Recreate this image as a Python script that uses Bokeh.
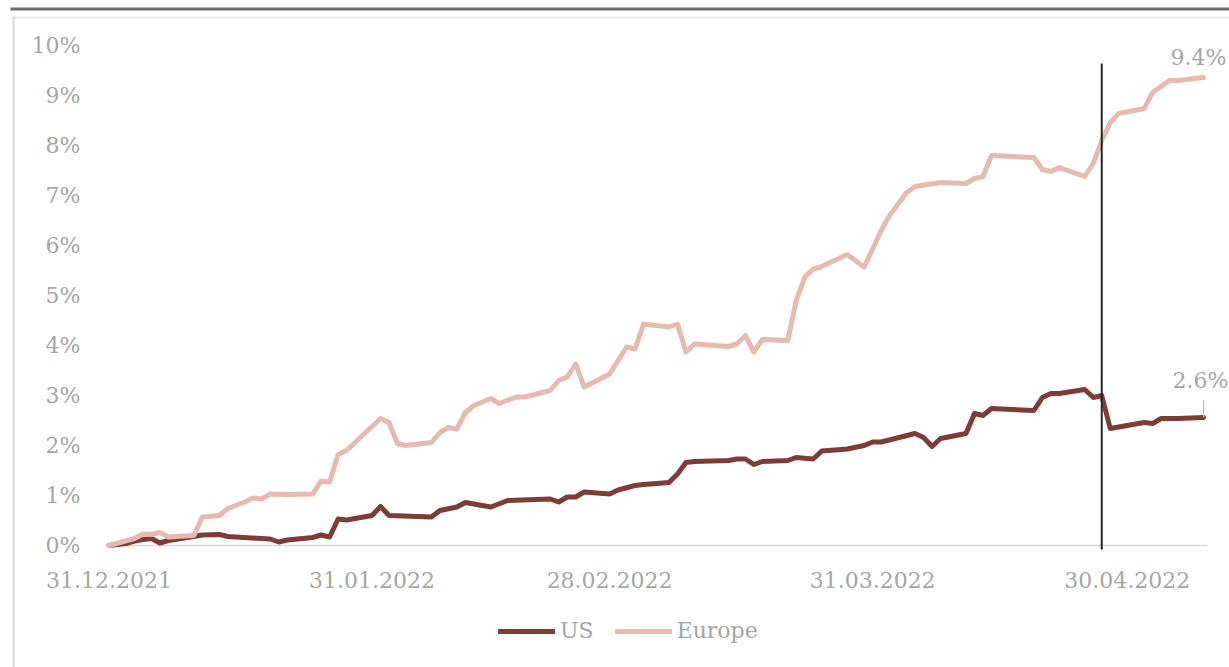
import pandas as pd
from bokeh.plotting import figure
from bokeh.models import (Range1d, FixedTicker, DatetimeTickFormatter, CustomJSTickFormatter,
                          Legend, LegendItem, Label, BoxAnnotation)
from bokeh.embed import file_html
from bokeh.resources import INLINE

# ---------------- data ----------------
us_dates = [
    "2021-12-31", "2022-01-02", "2022-01-03", "2022-01-04", "2022-01-05", "2022-01-06", "2022-01-07",
    "2022-01-10", "2022-01-11", "2022-01-13", "2022-01-14", "2022-01-18", "2022-01-19", "2022-01-20",
    "2022-01-21", "2022-01-24", "2022-01-25", "2022-01-26", "2022-01-27", "2022-01-28", "2022-01-31",
    "2022-02-01", "2022-02-02", "2022-02-07", "2022-02-08", "2022-02-10", "2022-02-11", "2022-02-14",
    "2022-02-16", "2022-02-21", "2022-02-22", "2022-02-23", "2022-02-24", "2022-02-25", "2022-02-28",
    "2022-03-01", "2022-03-03", "2022-03-04", "2022-03-07", "2022-03-08", "2022-03-09", "2022-03-10",
    "2022-03-14", "2022-03-15", "2022-03-16", "2022-03-17", "2022-03-18", "2022-03-21", "2022-03-22",
    "2022-03-24", "2022-03-25", "2022-03-28", "2022-03-30", "2022-03-31", "2022-04-01", "2022-04-05",
    "2022-04-06", "2022-04-07", "2022-04-08", "2022-04-11", "2022-04-12", "2022-04-13", "2022-04-14",
    "2022-04-19", "2022-04-20", "2022-04-21", "2022-04-22", "2022-04-25", "2022-04-26", "2022-04-27",
    "2022-04-28", "2022-05-02", "2022-05-03", "2022-05-04", "2022-05-06", "2022-05-09",
]
us_values = [
    0.00, 0.04, 0.09, 0.12, 0.14, 0.05, 0.10,
    0.18, 0.21, 0.22, 0.18, 0.14, 0.13, 0.07,
    0.11, 0.16, 0.21, 0.17, 0.53, 0.51, 0.60,
    0.78, 0.60, 0.57, 0.70, 0.77, 0.86, 0.77,
    0.90, 0.93, 0.87, 0.97, 0.97, 1.07, 1.03,
    1.11, 1.20, 1.22, 1.26, 1.43, 1.66, 1.68,
    1.70, 1.73, 1.73, 1.62, 1.68, 1.70, 1.76,
    1.73, 1.89, 1.93, 2.00, 2.07, 2.07, 2.24,
    2.16, 1.98, 2.14, 2.24, 2.64, 2.60, 2.74,
    2.70, 2.96, 3.04, 3.04, 3.12, 2.96, 3.00,
    2.34, 2.46, 2.44, 2.54, 2.54, 2.56,
]

europe_dates = [
    "2021-12-31", "2022-01-03", "2022-01-04", "2022-01-05", "2022-01-06", "2022-01-07", "2022-01-10",
    "2022-01-11", "2022-01-13", "2022-01-14", "2022-01-16", "2022-01-17", "2022-01-18", "2022-01-19",
    "2022-01-21", "2022-01-24", "2022-01-25", "2022-01-26", "2022-01-27", "2022-01-28", "2022-02-01",
    "2022-02-02", "2022-02-03", "2022-02-04", "2022-02-07", "2022-02-08", "2022-02-09", "2022-02-10",
    "2022-02-11", "2022-02-12", "2022-02-14", "2022-02-15", "2022-02-17", "2022-02-18", "2022-02-21",
    "2022-02-22", "2022-02-23", "2022-02-24", "2022-02-25", "2022-02-28", "2022-03-02", "2022-03-03",
    "2022-03-04", "2022-03-07", "2022-03-08", "2022-03-09", "2022-03-10", "2022-03-14", "2022-03-15",
    "2022-03-16", "2022-03-17", "2022-03-18", "2022-03-21", "2022-03-22", "2022-03-23", "2022-03-24",
    "2022-03-25", "2022-03-28", "2022-03-30", "2022-03-31", "2022-04-01", "2022-04-02", "2022-04-04",
    "2022-04-05", "2022-04-08", "2022-04-11", "2022-04-12", "2022-04-13", "2022-04-14", "2022-04-19",
    "2022-04-20", "2022-04-21", "2022-04-22", "2022-04-25", "2022-04-26", "2022-04-27", "2022-04-28",
    "2022-04-29", "2022-05-02", "2022-05-03", "2022-05-05", "2022-05-06", "2022-05-09",
]
europe_values = [
    0.00, 0.14, 0.23, 0.22, 0.26, 0.17, 0.20,
    0.57, 0.60, 0.74, 0.87, 0.95, 0.93, 1.03,
    1.02, 1.03, 1.29, 1.27, 1.82, 1.90, 2.54,
    2.46, 2.04, 2.00, 2.06, 2.26, 2.36, 2.33,
    2.66, 2.80, 2.94, 2.84, 2.97, 2.97, 3.10,
    3.30, 3.37, 3.63, 3.17, 3.43, 3.97, 3.93,
    4.43, 4.37, 4.43, 3.87, 4.03, 3.98, 4.03,
    4.20, 3.87, 4.12, 4.10, 4.90, 5.37, 5.53,
    5.58, 5.82, 5.57, 5.93, 6.30, 6.60, 7.06,
    7.18, 7.26, 7.24, 7.34, 7.38, 7.80, 7.76,
    7.52, 7.48, 7.56, 7.38, 7.64, 8.10, 8.46,
    8.64, 8.74, 9.06, 9.30, 9.30, 9.36,
]

series_names = ["US", "Europe"]
x_tick_dates = ["2021-12-31", "2022-01-31", "2022-02-28", "2022-03-31", "2022-04-30"]
y_ticks = [0, 1, 2, 3, 4, 5, 6, 7, 8, 9, 10]
marker_date = "2022-04-27"

# ---------------- styling / layout ----------------
FONT = "DejaVu Serif"
FS = "22px"
GRAY = "#A6A6A6"
US_COLOR = "#7D3D36"
EU_COLOR = "#E6BAAE"

W, H = 1229, 667
PX_PER_DAY = 8.485      # horizontal scale
ORIGIN_PX = 108.5       # canvas x of the first date
PX_PER_PCT = 50.0       # vertical scale
ZERO_PX = 545.0         # canvas y of 0 %
PLOT_RIGHT_PX = 1207.0  # right end of the plot area

t0 = pd.Timestamp(x_tick_dates[0])
day = pd.Timedelta(days=1)
x_start = t0 - day * (ORIGIN_PX / PX_PER_DAY)
x_end = t0 + day * ((W - ORIGIN_PX) / PX_PER_DAY)
x_axis_pos = t0 - day * (0.5 / PX_PER_DAY)
x_plot_end = t0 + day * ((PLOT_RIGHT_PX - ORIGIN_PX) / PX_PER_DAY)
y_start = -(H - ZERO_PX) / PX_PER_PCT
y_end = ZERO_PX / PX_PER_PCT


def ms(d):
    return pd.Timestamp(d).value / 1e6


us_x = pd.to_datetime(us_dates)
eu_x = pd.to_datetime(europe_dates)

p = figure(
    width=W, height=H, x_axis_type="datetime",
    output_backend="svg", toolbar_location=None,
    x_range=Range1d(x_start, x_end), y_range=Range1d(y_start, y_end),
    min_border_left=0, min_border_right=0, min_border_top=0, min_border_bottom=0,
)
p.outline_line_color = None
p.background_fill_color = "white"
p.border_fill_color = "white"
p.grid.visible = False

# axes (drawn inside the frame at fixed positions)
p.xaxis.fixed_location = 0
p.yaxis.fixed_location = ms(x_axis_pos)
p.xaxis.ticker = FixedTicker(ticks=[ms(d) for d in x_tick_dates])
fmt = "%d.%m.%Y"
p.xaxis.formatter = DatetimeTickFormatter(days=fmt, months=fmt, years=fmt, hours=fmt,
                                          minutes=fmt, seconds=fmt, milliseconds=fmt,
                                          microseconds=fmt, minsec=fmt, hourmin=fmt)
p.yaxis.ticker = FixedTicker(ticks=y_ticks)
p.yaxis.formatter = CustomJSTickFormatter(code="return tick.toFixed(0) + '%';")
for ax in (p.xaxis[0], p.yaxis[0]):
    ax.axis_line_color = None
    ax.major_tick_line_color = None
    ax.minor_tick_line_color = None
    ax.major_label_text_font = FONT
    ax.major_label_text_font_size = FS
    ax.major_label_text_color = GRAY
p.xaxis.major_label_standoff = 20
p.yaxis.major_label_standoff = 22

# zero baseline
p.segment(x0=[x_axis_pos], x1=[x_plot_end], y0=[0], y1=[0], line_color="#D9D9D9", line_width=1.5)

# series
r_us = p.line(us_x, us_values, line_color=US_COLOR, line_width=5, line_join="round", line_cap="round")
r_eu = p.line(eu_x, europe_values, line_color=EU_COLOR, line_width=5, line_join="round", line_cap="round")

# vertical marker
p.segment(x0=[pd.Timestamp(marker_date)], x1=[pd.Timestamp(marker_date)], y0=[-0.08], y1=[9.64],
          line_color="#262626", line_width=2)

# end labels
lbl_eu = Label(x=ms(europe_dates[-1]), y=europe_values[-1], text=f"{europe_values[-1]:.1f}%",
               x_offset=-33, y_offset=20, text_font=FONT, text_font_size=FS, text_color=GRAY,
               text_align="left", text_baseline="middle")
lbl_us = Label(x=ms(us_dates[-1]), y=us_values[-1], text=f"{us_values[-1]:.1f}%",
               x_offset=-31, y_offset=37, text_font=FONT, text_font_size=FS, text_color=GRAY,
               text_align="left", text_baseline="middle")
p.add_layout(lbl_eu)
p.add_layout(lbl_us)
p.segment(x0=[pd.Timestamp(us_dates[-1])], x1=[pd.Timestamp(us_dates[-1])],
          y0=[us_values[-1]], y1=[us_values[-1] + 0.35], line_color="#BFBFBF", line_width=1.2)

# legend
legend = Legend(
    items=[LegendItem(label=series_names[0], renderers=[r_us]),
           LegendItem(label=series_names[1], renderers=[r_eu])],
    orientation="horizontal", location=(498, 24),
    glyph_width=57, glyph_height=20, label_standoff=5, spacing=21,
    padding=0, margin=0, border_line_color=None, background_fill_alpha=0,
    label_text_font=FONT, label_text_font_size=FS, label_text_color=GRAY,
)
p.add_layout(legend)

# page decorations (chart frame)
def box(l, r, t, b, color):
    return BoxAnnotation(left=l, right=r, top=t, bottom=b,
                         left_units="canvas", right_units="canvas",
                         top_units="canvas", bottom_units="canvas",
                         fill_color=color, fill_alpha=1, line_color=None, level="underlay")

p.add_layout(box(10, W, 7, 10, "#6E6E6E"))
p.add_layout(box(12, W, 16, 18, "#E8E8E8"))
p.add_layout(box(12, 14, 16, H, "#DCDCDC"))

open("out.html", "w").write(file_html(p, INLINE))
